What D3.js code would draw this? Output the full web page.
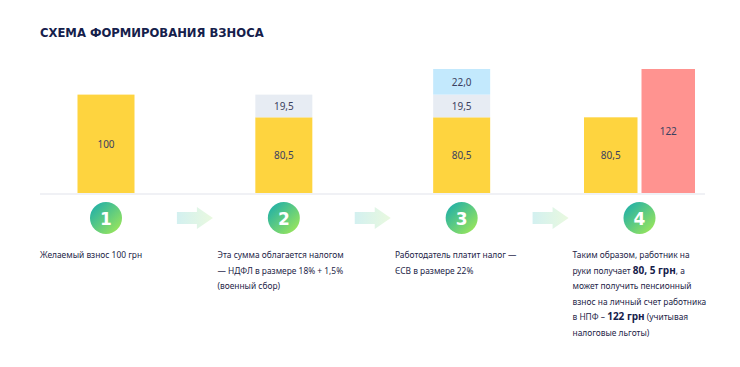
<!DOCTYPE html>
<html>
<head>
    <meta charset="utf-8">
    <title>Схема формирования взноса</title>
    <script src="https://d3js.org/d3.v7.min.js"></script>
    <style type="text/css">
        body {
            margin: 0;
            background-color: #fff;
        }

        .title {
            font-family: "DejaVu Sans", sans-serif;
            font-weight: bold;
            font-size: 11.6px;
            fill: #15204b;
        }

        .val {
            font-family: "Noto Sans", sans-serif;
            font-size: 10px;
            fill: #3b4160;
            text-anchor: middle;
            dominant-baseline: central;
        }

        .num {
            font-family: "DejaVu Sans", sans-serif;
            font-weight: bold;
            font-size: 17px;
            fill: #fff;
            text-anchor: middle;
            dominant-baseline: central;
        }

        .desc {
            font-family: "Noto Sans", sans-serif;
            font-size: 8.4px;
            fill: #1d2548;
        }

        .desc .b {
            font-weight: bold;
            font-size: 10px;
            fill: #15204b;
        }
    </style>
</head>
<body>

<div id="chart"></div>

<script type="text/javascript">
    const title = "СХЕМА ФОРМИРОВАНИЯ ВЗНОСА";
    const steps = ["1", "2", "3", "4"];

    const seriesColors = { net: "#fed43f", ndfl: "#e7ecf3", esv: "#c3e9fd", npf: "#ff9390" };
    const step1 = [{ series: "net", value: 100 }];
    const step2 = [{ series: "net", value: 80.5 }, { series: "ndfl", value: 19.5 }];
    const step3 = [{ series: "net", value: 80.5 }, { series: "ndfl", value: 19.5 }, { series: "esv", value: 22.0 }];
    const step4a = [{ series: "net", value: 80.5 }];
    const step4b = [{ series: "npf", value: 122 }];

    const stacks = [
        { step: "1", slot: 0, slots: 1, segs: step1 },
        { step: "2", slot: 0, slots: 1, segs: step2 },
        { step: "3", slot: 0, slots: 1, segs: step3 },
        { step: "4", slot: 0, slots: 2, segs: step4a },
        { step: "4", slot: 1, slots: 2, segs: step4b }
    ];

    // descriptions: each line is a list of [text, bold]
    const descriptions = [
        [[["Желаемый взнос 100 грн", 0]]],
        [[["Эта сумма облагается налогом", 0]],
         [["— НДФЛ в размере 18% + 1,5%", 0]],
         [["(военный сбор)", 0]]],
        [[["Работодатель платит налог —", 0]],
         [["ЄСВ в размере 22%", 0]]],
        [[["Таким образом, работник на", 0]],
         [["руки получает ", 0], ["80, 5 грн", 1], [", а", 0]],
         [["может получить пенсионный", 0]],
         [["взнос на личный счет работника", 0]],
         [["в НПФ – ", 0], ["122 грн", 1], [" (учитывая", 0]],
         [["налоговые льготы)", 0]]]
    ];

    const width = 740, height = 367;
    const baseY = 193;

    const svg = d3.select("#chart").append("svg")
        .attr("width", width)
        .attr("height", height);

    const defs = svg.append("defs");
    const cg = defs.append("linearGradient").attr("id", "circ")
        .attr("x1", "0%").attr("y1", "0%").attr("x2", "100%").attr("y2", "100%");
    cg.append("stop").attr("offset", "0%").attr("stop-color", "#14aab0");
    cg.append("stop").attr("offset", "100%").attr("stop-color", "#a8ec52");
    const ag = defs.append("linearGradient").attr("id", "arr")
        .attr("x1", "0%").attr("y1", "0%").attr("x2", "100%").attr("y2", "0%");
    ag.append("stop").attr("offset", "0%").attr("stop-color", "#d3f0f0");
    ag.append("stop").attr("offset", "100%").attr("stop-color", "#e9f9df");

    svg.append("text")
        .attr("class", "title")
        .attr("x", 40)
        .attr("y", 37)
        .text(title);

    const x = d3.scalePoint().domain(steps).range([106, 639.5]);
    const y = d3.scaleLinear().domain([15.5, 122]).range([baseY, 69]);
    const barW = 57, pairW = 53.5, pairGap = 4;

    // baseline
    svg.append("line")
        .attr("x1", 40).attr("x2", 705)
        .attr("y1", baseY + 1).attr("y2", baseY + 1)
        .attr("stroke", "#f0f1f5")
        .attr("stroke-width", 2);

    stacks.forEach(s => {
        let bx, bw;
        if (s.slots === 1) {
            bw = barW;
            bx = x(s.step) - bw / 2;
        } else {
            bw = pairW;
            bx = x(s.step) - pairW - pairGap / 2 + s.slot * (pairW + pairGap);
        }
        let cum = 0;
        const rows = s.segs.map(d => {
            const r = { ...d, y0: cum, y1: cum + d.value };
            cum += d.value;
            return r;
        });
        const g = svg.append("g");
        g.selectAll("rect")
            .data(rows)
            .join("rect")
            .attr("x", bx)
            .attr("width", bw)
            .attr("y", d => y(d.y1))
            .attr("height", d => (d.y0 === 0 ? baseY : y(d.y0)) - y(d.y1))
            .attr("fill", d => seriesColors[d.series]);
        g.selectAll("text")
            .data(rows)
            .join("text")
            .attr("class", "val")
            .attr("x", bx + bw / 2)
            .attr("y", d => ((d.y0 === 0 ? baseY : y(d.y0)) + y(d.y1)) / 2)
            .text(d => Number.isInteger(d.value) && d.series !== "esv"
                ? String(d.value)
                : d3.format(".1f")(d.value).replace(".", ","));
    });

    // arrows between steps
    const arrowPath = "M-18,-6 H2 V-11 L18,0 L2,11 V6 H-18 Z";
    d3.pairs(steps).forEach(([a, b]) => {
        svg.append("path")
            .attr("d", arrowPath)
            .attr("transform", `translate(${(x(a) + x(b)) / 2},218)`)
            .attr("fill", "url(#arr)");
    });

    // step circles
    const node = svg.selectAll("g.step")
        .data(steps)
        .join("g")
        .attr("class", "step")
        .attr("transform", d => `translate(${x(d)},218)`);
    node.append("circle").attr("r", 16).attr("fill", "url(#circ)");
    node.append("text").attr("class", "num").attr("y", 1).text(d => d);

    // descriptions
    const descX = [40, 217.5, 395, 572.5];
    descriptions.forEach((lines, i) => {
        const t = svg.append("text")
            .attr("class", "desc")
            .attr("x", descX[i])
            .attr("y", 258);
        lines.forEach((parts, li) => {
            parts.forEach(([str, bold], pi) => {
                const ts = t.append("tspan").text(str);
                if (bold) ts.attr("class", "b");
                if (pi === 0) ts.attr("x", descX[i]).attr("dy", li === 0 ? 0 : 15.6);
            });
        });
    });
</script>

</body>
</html>
